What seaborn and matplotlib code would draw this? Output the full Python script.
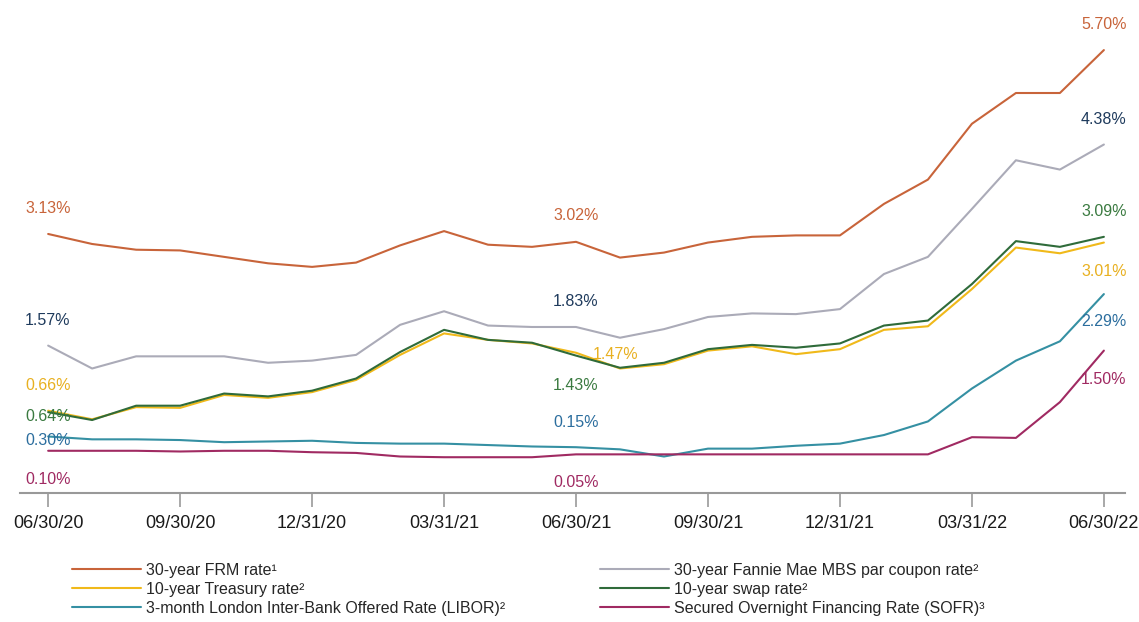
import pandas as pd
import matplotlib
matplotlib.use('Agg')
import matplotlib.pyplot as plt
import seaborn as sns

sns.set_style('white')
plt.rcParams['font.family'] = ['Liberation Sans', 'DejaVu Sans']

# ========== Data (month-end values, 06/2020 - 06/2022) ==========
months = list(range(25))
tick_pos = [0, 3, 6, 9, 12, 15, 18, 21, 24]
tick_labels = ['06/30/20', '09/30/20', '12/31/20', '03/31/21', '06/30/21',
               '09/30/21', '12/31/21', '03/31/22', '06/30/22']

frm = [3.13, 2.99, 2.91, 2.90, 2.81, 2.72, 2.67, 2.73, 2.97, 3.17, 2.98, 2.95,
       3.02, 2.80, 2.87, 3.01, 3.09, 3.11, 3.11, 3.55, 3.89, 4.67, 5.10, 5.10, 5.70]
mbs = [1.57, 1.25, 1.42, 1.42, 1.42, 1.33, 1.36, 1.44, 1.86, 2.05, 1.85, 1.83,
       1.83, 1.68, 1.80, 1.97, 2.02, 2.01, 2.08, 2.57, 2.81, 3.48, 4.16, 4.03, 4.38]
treasury = [0.66, 0.54, 0.71, 0.70, 0.88, 0.84, 0.92, 1.09, 1.44, 1.74, 1.65, 1.60,
            1.47, 1.25, 1.31, 1.50, 1.56, 1.45, 1.52, 1.79, 1.84, 2.36, 2.94, 2.86, 3.01]
swap = [0.64, 0.53, 0.73, 0.73, 0.90, 0.86, 0.94, 1.11, 1.48, 1.79, 1.65, 1.61,
        1.43, 1.26, 1.33, 1.52, 1.58, 1.54, 1.60, 1.85, 1.92, 2.43, 3.03, 2.95, 3.09]
libor = [0.30, 0.26, 0.26, 0.25, 0.22, 0.23, 0.24, 0.21, 0.20, 0.20, 0.18, 0.16,
         0.15, 0.12, 0.02, 0.13, 0.13, 0.17, 0.20, 0.32, 0.51, 0.97, 1.36, 1.63, 2.29]
sofr = [0.10, 0.10, 0.10, 0.09, 0.10, 0.10, 0.08, 0.07, 0.02, 0.01, 0.01, 0.01,
        0.05, 0.05, 0.05, 0.05, 0.05, 0.05, 0.05, 0.05, 0.05, 0.29, 0.28, 0.78, 1.50]

names = ['30-year FRM rate¹', '30-year Fannie Mae MBS par coupon rate²',
         '10-year Treasury rate²', '10-year swap rate²',
         '3-month London Inter-Bank Offered Rate (LIBOR)²',
         'Secured Overnight Financing Rate (SOFR)³']
series = [frm, mbs, treasury, swap, libor, sofr]
line_colors = ['#C8643A', '#ABABB8', '#F0B91A', '#2F6B3A', '#3590A3', '#A02A62']
label_colors = ['#C8643A', '#1E3A5C', '#E8B020', '#3A7A40', '#2C6E9E', '#A02A62']

# value labels: (series index, month index, dx px, dy px, ha)
labels = [
    (0, 0, -23, 25, 'left'), (0, 12, 0, 26, 'center'), (0, 24, 0, 26, 'center'),
    (1, 0, -23, 25, 'left'), (1, 12, 0, 25, 'center'), (1, 24, 0, 25, 'center'),
    (2, 0, -23, 25, 'left'), (2, 12, 17, -2, 'left'), (2, 24, 0, -29, 'center'),
    (3, 0, -23, -4, 'left'), (3, 12, 0, -30, 'center'), (3, 24, 0, 25, 'center'),
    (4, 0, -23, -4, 'left'), (4, 12, 0, 25, 'center'), (4, 24, 0, -27, 'center'),
    (5, 0, -23, -29, 'left'), (5, 12, 0, -28, 'center'), (5, 24, 0, -29, 'center'),
]

df = pd.DataFrame({'month': months * len(names),
                   'rate': [v for s in series for v in s],
                   'series': [n for n in names for _ in months]})

fig = plt.figure(figsize=(11.39, 6.22), dpi=100)
ax = fig.add_axes([20 / 1139, 1 - 493 / 622, 1105 / 1139, 483 / 622])

sns.lineplot(data=df, x='month', y='rate', hue='series', hue_order=names,
             palette=dict(zip(names, line_colors)), linewidth=1.5,
             legend=False, ax=ax)

for si, mi, dx, dy, ha in labels:
    v = series[si][mi]
    ax.annotate(f'{v:.2f}%', (mi, v), xytext=(dx, dy), textcoords='offset pixels',
                ha=ha, va='center', fontsize=11.5, color=label_colors[si])

ax.set_xlim(-0.64, 24.48)
ax.set_ylim(-0.49, 6.26)
ax.set_yticks([])
ax.set_xticks(tick_pos)
ax.set_xticklabels(tick_labels, fontsize=13, color='#1a1a1a')
ax.set_xlabel('')
ax.set_ylabel('')
ax.tick_params(axis='x', length=10, width=1.2, color='#999999', pad=6, bottom=True)
for side in ['left', 'right', 'top']:
    ax.spines[side].set_visible(False)
ax.spines['bottom'].set_color('#999999')
ax.spines['bottom'].set_linewidth(1.5)

# ========== Legend (two columns, row-wise order) ==========
lines = ax.get_lines()
for idx, x0 in [((0, 2, 4), 72), ((1, 3, 5), 600)]:
    fig.legend([lines[i] for i in idx], [names[i] for i in idx],
               loc='upper left', bbox_to_anchor=(x0 / 1139, 1 - 563 / 622),
               frameon=False, fontsize=11.5, handlelength=4.3,
               handletextpad=0.35, labelspacing=0.25, borderpad=0,
               borderaxespad=0)

plt.savefig('out.png', dpi=100)
